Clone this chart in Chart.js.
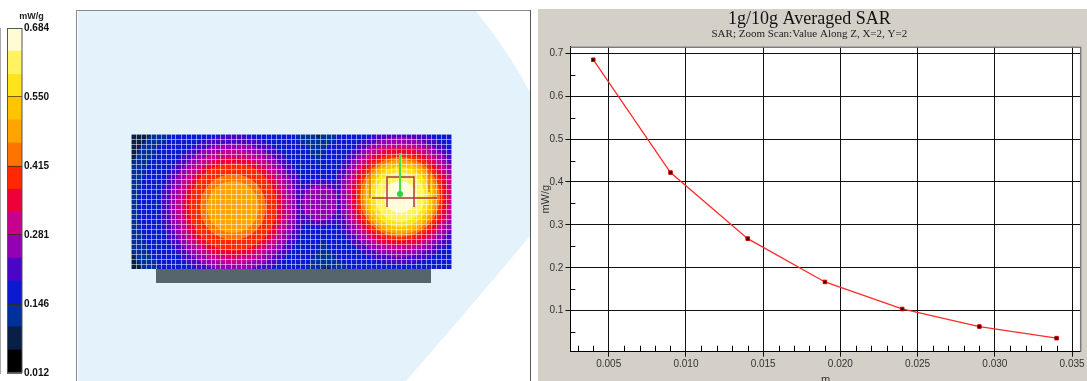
<!DOCTYPE html>
<html lang="en">
<head>
<meta charset="UTF-8">
<title>1g/10g Averaged SAR</title>
<script src="https://cdn.jsdelivr.net/npm/chart.js"></script>
<style>
  body { margin: 0; width: 1087px; height: 381px; overflow: hidden; background: #fff; position: relative; }
  .abs { position: absolute; }
  #greyPanel { left: 538px; top: 9px; width: 549px; height: 372px; background: #d4d0c8; }
</style>
</head>
<body>
<svg class="abs" style="left:0;top:0" width="1087" height="381">
  <path d="M78 11 L476 11 Q506 48 530 92 L530 236 Q468 310 406 381 L78 381 Z" fill="#e3f2fb"/>
  <rect x="156" y="269" width="275" height="14" fill="#56656a"/>
  <line x1="76" y1="10.5" x2="531" y2="10.5" stroke="#8a8a8a"/>
  <line x1="76.5" y1="10" x2="76.5" y2="381" stroke="#8a8a8a"/>
  <line x1="530.5" y1="10" x2="530.5" y2="381" stroke="#555"/>
</svg>
<div id="greyPanel" class="abs"></div>
<canvas id="cbar" class="abs" style="left:0;top:0" width="56" height="381"></canvas>
<canvas id="heat" class="abs" style="left:131px;top:134px" width="321" height="135"></canvas>
<canvas id="sar" class="abs" style="left:538px;top:0" width="549" height="395"></canvas>
<script>
// SAR along Z (right chart)
const zPos = [0.004, 0.009, 0.014, 0.019, 0.024, 0.029, 0.034];
const sarZ = [0.685, 0.422, 0.268, 0.167, 0.104, 0.063, 0.036];
const xTickValues = [0.005, 0.010, 0.015, 0.020, 0.025, 0.030, 0.035];
const yTickValues = [0.1, 0.2, 0.3, 0.4, 0.5, 0.6, 0.7];

// colour scale (mW/g), bottom band first
const cbarEdges = [0.012, 0.057, 0.102, 0.146, 0.191, 0.236, 0.281, 0.326, 0.370, 0.415, 0.460, 0.505, 0.550, 0.594, 0.639, 0.684];
const cbarLabels = [0.012, 0.146, 0.281, 0.415, 0.550, 0.684];
const cbarColors = ['#000000', '#082048', '#00309c', '#0a1ad2', '#4a06c6', '#9400b4', '#c8008e',
  '#ee0038', '#ff2800', '#ff7400', '#ffa400', '#ffc400', '#ffe41c', '#fff460', '#fffbd2'];

// area scan: contour extents, in mesh cells (left hot spot, right hot spot, saddle)
const hotspotX = [20.4, 53.8, 37.8];
const hotspotY = [12.4, 14.4, 13.2];
const ringLevels  = [2,    3,    4,    5,    6,    7,    8,   9,   10,  11,  12,  13,  14];
const leftRingR   = [22.0, 19.0, 14.4, 12.8, 11.4, 10.0, 8.8, 6.6, 5.2, 0,   0,   0,   0];
const rightRingR  = [20.0, 17.6, 13.4, 12.0, 10.8, 9.8,  8.8, 8.0, 7.4, 6.8, 6.0, 5.0, 3.2];
const saddleRingR = [0,    0,    4.8,  3.6,  0,    0,    0,   0,   0,   0,   0,   0,   0];
const meshCols = 64.2, meshRows = 27;

const framePlugin = {
  id: 'frame',
  beforeDraw(chart, args, opts) {
    if (!opts.fill) return;
    const a = chart.chartArea;
    chart.ctx.save();
    chart.ctx.fillStyle = opts.fill;
    chart.ctx.fillRect(a.left, a.top, a.right - a.left, a.bottom - a.top);
    chart.ctx.restore();
  },
  afterDraw(chart, args, opts) {
    if (!opts.stroke) return;
    const a = chart.chartArea, ctx = chart.ctx;
    const sides = opts.sides || 'tlbr';
    ctx.save();
    ctx.strokeStyle = opts.stroke;
    ctx.lineWidth = opts.width || 1;
    ctx.beginPath();
    if (sides.includes('t')) { ctx.moveTo(a.left, a.top + 0.5); ctx.lineTo(a.right, a.top + 0.5); }
    if (sides.includes('r')) { ctx.moveTo(a.right, a.top); ctx.lineTo(a.right, a.bottom); }
    if (sides.includes('l')) { ctx.moveTo(a.left + 0.5, a.top); ctx.lineTo(a.left + 0.5, a.bottom); }
    if (sides.includes('b')) { ctx.moveTo(a.left, a.bottom - 0.5); ctx.lineTo(a.right, a.bottom - 0.5); }
    ctx.stroke();
    ctx.restore();
  }
};

// inward minor ticks along bottom and left axis
const minorTickPlugin = {
  id: 'minorTicks',
  afterDraw(chart) {
    const {ctx, chartArea: a, scales: {x, y}} = chart;
    ctx.save();
    ctx.strokeStyle = '#000';
    ctx.lineWidth = 1;
    ctx.beginPath();
    for (let i = 3; i <= 35; i++) {
      if (i % 5 === 0) continue;
      const px = Math.round(x.getPixelForValue(i / 1000)) + 0.5;
      ctx.moveTo(px, a.bottom); ctx.lineTo(px, a.bottom - 6);
    }
    for (let i = 1; i <= 13; i += 2) {
      const py = Math.round(y.getPixelForValue(i * 0.05)) + 0.5;
      ctx.moveTo(a.left, py); ctx.lineTo(a.left + 5, py);
    }
    ctx.stroke();
    ctx.restore();
  }
};

// zoom scan box and probe marker on the hottest spot
const probePlugin = {
  id: 'probe',
  afterDraw(chart) {
    const {ctx, scales: {x, y}} = chart;
    const cx = hotspotX[1], cy = hotspotY[1];
    const X = d => x.getPixelForValue(cx + d), Y = d => y.getPixelForValue(cy + d);
    ctx.save();
    ctx.strokeStyle = 'rgba(200,50,60,0.8)';
    ctx.lineWidth = 1;
    ctx.beginPath();
    ctx.moveTo(X(-6), Y(-0.2)); ctx.lineTo(X(-6), Y(9.6)); ctx.lineTo(X(5.8), Y(9.6)); ctx.lineTo(X(5.8), Y(1));
    ctx.stroke();
    ctx.strokeStyle = '#b03838';
    ctx.lineWidth = 1.5;
    ctx.beginPath();
    ctx.moveTo(X(-5.6), Y(-0.2)); ctx.lineTo(X(7.4), Y(-0.2));
    ctx.moveTo(X(-2.6), Y(-2)); ctx.lineTo(X(-2.6), Y(4)); ctx.lineTo(X(2.8), Y(4)); ctx.lineTo(X(2.8), Y(-2));
    ctx.stroke();
    ctx.strokeStyle = '#44e046';
    ctx.lineWidth = 2;
    ctx.beginPath();
    ctx.moveTo(X(0), Y(8.8)); ctx.lineTo(X(0), Y(0.6));
    ctx.stroke();
    ctx.fillStyle = '#30d040';
    ctx.beginPath();
    ctx.arc(X(0), Y(0.6), 3, 0, Math.PI * 2);
    ctx.fill();
    ctx.restore();
  }
};

const sansFont = '"Liberation Sans", Arial, sans-serif';
const serifFont = '"Liberation Serif", "Times New Roman", serif';

// colour bar
new Chart(document.getElementById('cbar'), {
  type: 'bar',
  data: {
    labels: [''],
    datasets: cbarColors.map((c, i) => ({
      data: [[cbarEdges[i], cbarEdges[i + 1]]],
      backgroundColor: c,
      borderWidth: 0,
      barPercentage: 1,
      categoryPercentage: 1,
      grouped: false
    }))
  },
  options: {
    responsive: false, animation: false, events: [],
    layout: { padding: { left: 7, top: 0, right: 0, bottom: 3 }, autoPadding: false },
    plugins: {
      legend: { display: false }, tooltip: { enabled: false },
      title: { display: true, text: 'mW/g', color: '#222', font: { family: sansFont, size: 9, weight: 'bold', lineHeight: 1 }, padding: { top: 12, bottom: 7 } },
      frame: { stroke: '#555' }
    },
    scales: {
      x: { display: false },
      y: {
        position: 'right', min: 0.012, max: 0.684,
        afterBuildTicks: s => { s.ticks = cbarLabels.map(v => ({ value: v })); },
        afterFit: s => { s.width = 34; },
        ticks: { padding: 2, color: '#111', font: { family: sansFont, size: 10, weight: 'bold' }, callback: v => v.toFixed(3) },
        grid: { drawTicks: false, color: 'rgba(60,40,0,0.7)', z: 1 },
        border: { color: '#555' }
      }
    }
  },
  plugins: [framePlugin]
});

// area scan map
const heatDatasets = [];
for (let k = ringLevels.length - 1; k >= 0; k--) {
  const pts = [];
  [leftRingR, rightRingR, saddleRingR].forEach((rr, b) => {
    if (rr[k] > 0) pts.push({ x: hotspotX[b], y: hotspotY[b], r: rr[k] });
  });
  heatDatasets.push({
    data: pts,
    backgroundColor: cbarColors[ringLevels[k]],
    pointRadius: c => c.raw ? Math.abs(c.chart.scales.x.getPixelForValue(c.raw.r) - c.chart.scales.x.getPixelForValue(0)) : 0,
    pointBorderWidth: 0,
    pointHitRadius: 0,
    clip: 0
  });
}
new Chart(document.getElementById('heat'), {
  type: 'scatter',
  data: { datasets: heatDatasets },
  options: {
    responsive: false, animation: false, events: [],
    layout: { padding: 0, autoPadding: false },
    plugins: { legend: { display: false }, tooltip: { enabled: false }, frame: { fill: cbarColors[1] } },
    scales: {
      x: {
        min: 0, max: meshCols,
        afterBuildTicks: s => { s.ticks = []; for (let i = 0; i <= 64; i++) s.ticks.push({ value: i }); },
        afterFit: s => { s.height = 0; },
        ticks: { display: false },
        grid: { drawTicks: false, color: 'rgba(255,255,255,0.5)', z: 1 },
        border: { display: false }
      },
      y: {
        min: 0, max: meshRows,
        afterBuildTicks: s => { s.ticks = []; for (let i = 0; i <= meshRows; i++) s.ticks.push({ value: i }); },
        afterFit: s => { s.width = 0; },
        ticks: { display: false },
        grid: { drawTicks: false, color: 'rgba(255,255,255,0.5)', z: 1 },
        border: { display: false }
      }
    }
  },
  plugins: [framePlugin, probePlugin]
});

// SAR vs Z
new Chart(document.getElementById('sar'), {
  type: 'scatter',
  data: {
    datasets: [{
      data: zPos.map((z, i) => ({ x: z, y: sarZ[i] })),
      showLine: true,
      borderColor: '#ff2a2a',
      borderWidth: 1.3,
      tension: 0,
      pointStyle: 'rect',
      pointRadius: 2.5,
      pointBackgroundColor: '#300000',
      pointBorderColor: '#d00000',
      pointBorderWidth: 1
    }]
  },
  options: {
    responsive: false, animation: false, events: [],
    layout: { padding: { left: 0, right: 6.3, top: 0, bottom: 0 }, autoPadding: false },
    plugins: {
      legend: { display: false }, tooltip: { enabled: false },
      title: { display: true, text: '1g/10g Averaged SAR', color: '#111', font: { family: serifFont, size: 18, weight: 'normal', lineHeight: 1 }, padding: { top: 10.5, bottom: 0 } },
      subtitle: { display: true, text: 'SAR; Zoom Scan:Value Along Z, X=2, Y=2', color: '#222', font: { family: serifFont, size: 11, lineHeight: 1 }, padding: { top: 0, bottom: 7.2 } },
      frame: { fill: '#fff', stroke: '#7a7a7a', width: 1.5, sides: 'tr' }
    },
    scales: {
      x: {
        type: 'linear', min: 0.00252, max: 0.03556,
        afterBuildTicks: s => { s.ticks = xTickValues.map(v => ({ value: v })); },
        afterFit: s => { s.height = 43.3; },
        ticks: { color: '#333', font: { family: sansFont, size: 10 }, padding: 2, autoSkip: false, maxRotation: 0, callback: v => v.toFixed(3) },
        grid: { color: '#111', lineWidth: 1, tickLength: 5 },
        border: { color: '#000', width: 1 },
        title: { display: true, text: 'm', color: '#333', font: { family: sansFont, size: 11 }, padding: { top: 8.4, bottom: 8.4 } }
      },
      y: {
        min: 0.0044, max: 0.7154,
        afterBuildTicks: s => { s.ticks = yTickValues.map(v => ({ value: v })); },
        afterFit: s => { s.width = 32.4; },
        ticks: { color: '#333', font: { family: sansFont, size: 10 }, padding: 2, callback: v => v.toFixed(1) },
        grid: { color: '#111', lineWidth: 1, tickLength: 5 },
        border: { color: '#000', width: 1 },
        title: { display: true, text: 'mW/g', color: '#333', font: { family: sansFont, size: 11 }, padding: { top: 1.4, bottom: 1.4 } }
      }
    }
  },
  plugins: [framePlugin, minorTickPlugin]
});
</script>
</body>
</html>
